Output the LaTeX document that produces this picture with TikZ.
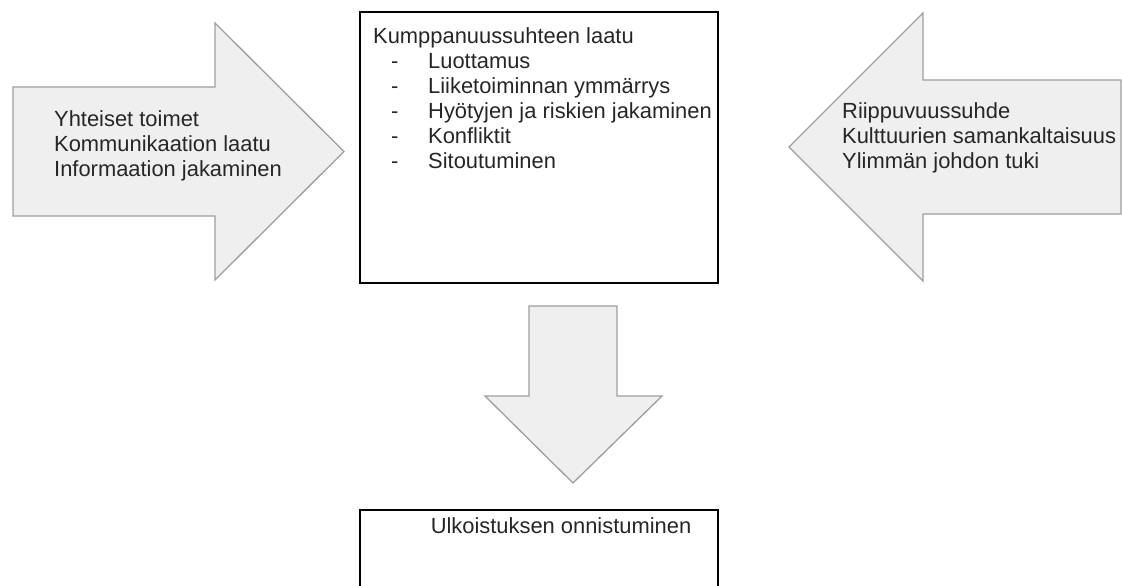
\documentclass[tikz,border=0pt]{standalone}
\usepackage{fontspec}
\setmainfont{Liberation Sans}
\usetikzlibrary{positioning}
\definecolor{arrowfill}{HTML}{EFEFEF}
\definecolor{arrowline}{HTML}{9E9E9E}
\definecolor{textgrey}{HTML}{262626}
\newcommand{\dashitem}[1]{\hspace*{18pt}\makebox[37pt][l]{-}#1}

\begin{document}
\begin{tikzpicture}[
    x=1pt, y=-1pt,
    blockarrow/.style={draw=arrowline, fill=arrowfill, line width=1.3pt, line join=miter},
    box/.style={draw, rectangle, line width=1.8pt, minimum width=358pt, inner sep=0pt},
    txt/.style={inner sep=0pt, align=left, text=textgrey, font=\fontsize{21.9}{25}\selectfont}
]
    \useasboundingbox (0,0) rectangle (1122,586);

    % block arrows
    \draw[blockarrow] (13,87) -- (215,87) -- (215,23) -- (344,151.5) -- (215,280) -- (215,216) -- (13,216) -- cycle;
    \draw[blockarrow] (1121,80) -- (923,80) -- (923,13) -- (789,147) -- (923,281) -- (923,214) -- (1121,214) -- cycle;
    \draw[blockarrow] (529,306) -- (617,306) -- (617,396) -- (662,396) -- (573,483) -- (485,396) -- (529,396) -- cycle;

    % boxes
    \node[box, minimum height=271pt] (quality) at (539,147.5) {};
    \node[box, minimum height=120pt] (success) [below=225pt of quality] {};

    % texts
    \node[txt, anchor=north west] (qualitytext) at (373,27.5) {Kumppanuussuhteen laatu\\
        \dashitem{Luottamus}\\
        \dashitem{Liiketoiminnan ymmärrys}\\
        \dashitem{Hyötyjen ja riskien jakaminen}\\
        \dashitem{Konfliktit}\\
        \dashitem{Sitoutuminen}};
    \node[txt, anchor=base] (successtext) at (561,533.6) {Ulkoistuksen onnistuminen};
    \node[txt, anchor=west] (sharedtext) at (54,146) {Yhteiset toimet\\Kommunikaation laatu\\Informaation jakaminen};
    \node[txt, anchor=west] (dependtext) at (842,138) {Riippuvuussuhde\\Kulttuurien samankaltaisuus\\Ylimmän johdon tuki};
\end{tikzpicture}
\end{document}
